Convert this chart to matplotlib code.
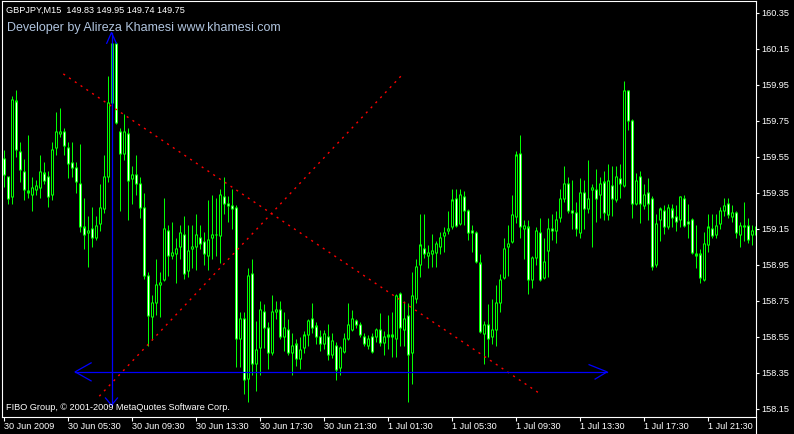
import matplotlib
matplotlib.use('Agg')
from matplotlib import pyplot as plt
from matplotlib.lines import Line2D

plt.rcParams['font.family'] = ['Liberation Sans', 'DejaVu Sans']

# GBPJPY M15 bars (bar 0 = 30 Jun 01:30)
opens = [159.54, 159.44, 159.33, 159.86, 159.58, 159.47, 159.36, 159.34, 159.37, 159.38,
         159.46, 159.44, 159.34, 159.60, 159.68, 159.69, 159.60, 159.52, 159.49, 159.40,
         159.16, 159.13, 159.15, 159.10, 159.18, 159.26, 159.44, 159.85, 160.18, 159.69,
         159.57, 159.68, 159.43, 159.45, 159.40, 159.27, 158.89, 158.66, 158.74, 158.84,
         158.87, 159.14, 159.00, 159.01, 159.05, 159.12, 158.92, 159.04, 159.05, 159.10,
         159.08, 159.00, 159.10, 159.12, 159.11, 159.33, 159.29, 159.28, 159.27, 158.54,
         158.65, 158.32, 158.90, 158.40, 158.49, 158.69, 158.60, 158.46, 158.69, 158.70,
         158.55, 158.59, 158.46, 158.51, 158.43, 158.49, 158.56, 158.65, 158.61, 158.55,
         158.51, 158.55, 158.45, 158.50, 158.38, 158.47, 158.54, 158.59, 158.64, 158.62,
         158.55, 158.50, 158.55, 158.55, 158.59, 158.52, 158.55, 158.55, 158.54, 158.79,
         158.59, 158.67, 158.46, 158.76, 158.95, 159.04, 159.00, 159.01, 159.02, 159.05,
         159.11, 159.14, 159.16, 159.32, 159.18, 159.33, 159.25, 159.14, 159.13, 158.96,
         158.57, 158.62, 158.55, 158.59, 158.74, 158.88, 159.05, 159.08, 159.22, 159.57,
         159.15, 159.16, 158.87, 158.99, 159.13, 158.88, 159.03, 159.15, 159.14, 159.21,
         159.32, 159.40, 159.25, 159.24, 159.13, 159.35, 159.26, 159.37, 159.37, 159.34,
         159.41, 159.23, 159.39, 159.31, 159.43, 159.39, 159.92, 159.75, 159.29, 159.44,
         159.28, 159.35, 159.32, 158.95, 159.20, 159.25, 159.16, 159.26, 159.22, 159.20,
         159.32, 159.19, 159.20, 159.01, 159.01, 158.87, 159.06, 159.15, 159.12, 159.18,
         159.25, 159.29, 159.22, 159.24, 159.12, 159.17, 159.17, 159.12, 159.12]
highs = [159.59, 159.44, 159.89, 159.92, 159.63, 159.54, 159.67, 159.44, 159.42, 159.56,
         159.52, 159.47, 159.63, 159.80, 159.82, 159.71, 159.63, 159.63, 159.52, 159.62,
         159.32, 159.22, 159.27, 159.22, 159.40, 159.56, 160.00, 160.19, 160.19, 159.71,
         159.79, 159.71, 159.50, 159.56, 159.44, 159.35, 158.91, 158.78, 158.98, 158.91,
         159.32, 159.17, 159.19, 159.10, 159.17, 159.22, 159.17, 159.17, 159.23, 159.17,
         159.13, 159.31, 159.34, 159.32, 159.37, 159.44, 159.33, 159.37, 159.28, 158.69,
         158.69, 158.93, 158.98, 158.64, 158.75, 158.73, 158.63, 158.78, 158.75, 158.75,
         158.69, 158.65, 158.57, 158.54, 158.55, 158.58, 158.65, 158.74, 158.63, 158.59,
         158.59, 158.62, 158.57, 158.52, 158.50, 158.57, 158.74, 158.70, 158.65, 158.63,
         158.57, 158.56, 158.57, 158.60, 158.68, 158.58, 158.67, 158.69, 158.79, 158.80,
         158.75, 158.74, 158.91, 158.98, 159.23, 159.23, 159.06, 159.12, 159.08, 159.13,
         159.16, 159.25, 159.37, 159.37, 159.37, 159.36, 159.26, 159.17, 159.14, 159.01,
         158.64, 158.73, 158.76, 158.84, 158.90, 159.10, 159.17, 159.34, 159.58, 159.67,
         159.20, 159.20, 159.00, 159.16, 159.21, 159.10, 159.21, 159.23, 159.25, 159.37,
         159.50, 159.44, 159.42, 159.30, 159.43, 159.42, 159.53, 159.40, 159.48, 159.44,
         159.47, 159.51, 159.50, 159.50, 159.51, 159.97, 159.92, 159.76, 159.46, 159.47,
         159.40, 159.43, 159.33, 159.23, 159.27, 159.28, 159.29, 159.29, 159.28, 159.33,
         159.34, 159.29, 159.21, 159.17, 159.04, 159.13, 159.23, 159.23, 159.23, 159.27,
         159.32, 159.32, 159.28, 159.25, 159.19, 159.30, 159.21, 159.17, 159.19]
lows = [159.38, 159.29, 159.29, 159.55, 159.41, 159.31, 159.32, 159.25, 159.34, 159.32,
        159.40, 159.27, 159.31, 159.56, 159.66, 159.56, 159.43, 159.44, 159.35, 159.13,
        159.04, 158.94, 159.05, 159.09, 159.14, 159.24, 159.41, 159.84, 159.73, 159.25,
        159.53, 159.20, 159.29, 159.34, 159.21, 158.87, 158.50, 158.53, 158.67, 158.66,
        158.86, 158.89, 158.98, 158.85, 158.98, 158.87, 158.88, 158.93, 158.92, 159.04,
        158.95, 158.92, 158.98, 159.00, 158.96, 159.23, 159.19, 159.15, 158.38, 158.38,
        158.23, 158.19, 158.34, 158.25, 158.34, 158.49, 158.37, 158.45, 158.65, 158.54,
        158.47, 158.45, 158.34, 158.39, 158.37, 158.46, 158.50, 158.57, 158.51, 158.47,
        158.48, 158.42, 158.43, 158.31, 158.34, 158.46, 158.53, 158.58, 158.60, 158.55,
        158.50, 158.48, 158.46, 158.52, 158.50, 158.45, 158.48, 158.44, 158.44, 158.50,
        158.50, 158.19, 158.29, 158.74, 158.88, 158.99, 158.93, 158.94, 158.94, 159.01,
        159.02, 159.12, 159.15, 159.16, 159.17, 159.17, 159.09, 159.02, 158.96, 158.57,
        158.40, 158.44, 158.51, 158.50, 158.69, 158.87, 158.89, 159.07, 159.18, 159.10,
        158.98, 158.79, 158.82, 158.95, 158.86, 158.87, 158.88, 159.09, 159.07, 159.19,
        159.30, 159.24, 159.15, 159.11, 159.10, 159.15, 159.24, 159.05, 159.19, 159.21,
        159.20, 159.20, 159.22, 159.30, 159.32, 159.38, 159.70, 159.21, 159.28, 159.18,
        159.26, 159.20, 158.92, 158.94, 159.08, 159.12, 159.15, 159.16, 159.14, 159.16,
        159.16, 159.10, 159.01, 158.93, 158.85, 158.86, 159.02, 159.10, 159.10, 159.15,
        159.22, 159.21, 159.19, 159.10, 159.05, 159.08, 159.07, 159.06, 159.07]
closes = [159.45, 159.32, 159.87, 159.59, 159.48, 159.37, 159.35, 159.38, 159.39, 159.47,
          159.42, 159.33, 159.59, 159.69, 159.69, 159.61, 159.51, 159.49, 159.41, 159.16,
          159.12, 159.14, 159.10, 159.17, 159.27, 159.44, 159.85, 160.18, 159.74, 159.57,
          159.69, 159.42, 159.45, 159.40, 159.27, 158.89, 158.67, 158.74, 158.84, 158.85,
          159.15, 159.00, 159.02, 159.04, 159.13, 158.90, 159.03, 159.05, 159.12, 159.07,
          159.01, 159.09, 159.12, 159.12, 159.34, 159.29, 159.28, 159.26, 158.54, 158.65,
          158.31, 158.89, 158.40, 158.48, 158.70, 158.60, 158.46, 158.69, 158.70, 158.55,
          158.60, 158.46, 158.50, 158.43, 158.48, 158.56, 158.64, 158.60, 158.55, 158.51,
          158.57, 158.45, 158.53, 158.37, 158.49, 158.54, 158.62, 158.65, 158.62, 158.56,
          158.51, 158.54, 158.47, 158.59, 158.52, 158.55, 158.56, 158.56, 158.78, 158.60,
          158.65, 158.45, 158.78, 158.94, 159.06, 159.01, 159.02, 159.03, 159.07, 159.10,
          159.13, 159.15, 159.31, 159.17, 159.34, 159.25, 159.13, 159.13, 158.97, 158.58,
          158.62, 158.54, 158.59, 158.74, 158.87, 159.04, 159.07, 159.23, 159.56, 159.16,
          159.17, 158.87, 158.99, 159.14, 158.87, 158.97, 159.15, 159.14, 159.20, 159.32,
          159.40, 159.25, 159.24, 159.15, 159.35, 159.26, 159.32, 159.38, 159.32, 159.40,
          159.24, 159.42, 159.32, 159.44, 159.40, 159.92, 159.75, 159.29, 159.42, 159.29,
          159.34, 159.29, 158.94, 159.18, 159.26, 159.16, 159.27, 159.21, 159.19, 159.33,
          159.17, 159.18, 159.02, 159.00, 158.88, 159.07, 159.16, 159.11, 159.17, 159.25,
          159.28, 159.23, 159.24, 159.13, 159.17, 159.16, 159.09, 159.14, 159.16]

time_ticks = [0, 16, 32, 48, 64, 80, 96, 112, 128, 144, 160, 176]
time_labels = ['30 Jun 2009', '30 Jun 05:30', '30 Jun 09:30', '30 Jun 13:30',
               '30 Jun 17:30', '30 Jun 21:30', '1 Jul 01:30', '1 Jul 05:30',
               '1 Jul 09:30', '1 Jul 13:30', '1 Jul 17:30', '1 Jul 21:30']
price_ticks = [158.15, 158.35, 158.55, 158.75, 158.95, 159.15,
               159.35, 159.55, 159.75, 159.95, 160.15, 160.35]

# objects drawn on the chart (bar index, price)
fan_down_bars = [14.95, 133.7]
fan_down_prices = [160.01, 158.24]
fan_up_bars = [23.95, 99.45]
fan_up_prices = [158.22, 160.00]
hline_bars = [17.9, 150.9]
hline_price = 158.355
vline_bar = 27
vline_prices = [158.17, 160.24]

header = 'GBPJPY,M15  149.83 149.95 149.74 149.75'
developer = 'Developer by Alireza Khamesi www.khamesi.com'
footer = 'FIBO Group, \u00a9 2001-2009 MetaQuotes Software Corp.'

GREEN = '#00ff00'
BLUE = '#0000ff'
W, H = 794, 434
top_px, bottom_px, left_px, right_px = 1, 416.7, 2, 756
PX = 0.72  # one pixel in points

fig = plt.figure(figsize=(W / 100, H / 100), dpi=100, facecolor='black')
ax = fig.add_axes([left_px / W, (H - bottom_px) / H,
                   (right_px - left_px) / W, (bottom_px - top_px) / H])
ax.set_facecolor('black')
ax.set_xlim(-0.375, 188.125)
ax.set_ylim(158.106, 160.415)

# price per pixel on this scale
ppx = (160.415 - 158.106) / (bottom_px - top_px)

# candles: 1px wick, 3px lime body, 1px core (white = down bar, black = up bar)
idx = list(range(len(opens)))
ax.vlines(idx, lows, highs, color=GREEN, lw=PX, zorder=2)
body_lo = [min(o, c) - ppx / 2 for o, c in zip(opens, closes)]
body_hi = [max(o, c) + ppx / 2 for o, c in zip(opens, closes)]
ax.vlines(idx, body_lo, body_hi, color=GREEN, lw=3 * PX, zorder=3)
core_i, core_lo, core_hi, core_c = [], [], [], []
for i, o, c in zip(idx, opens, closes):
    lo, hi = min(o, c) + ppx * 0.6, max(o, c) - ppx * 0.6
    if hi > lo:
        core_i.append(i)
        core_lo.append(lo)
        core_hi.append(hi)
        core_c.append('white' if c < o else 'black')
ax.vlines(core_i, core_lo, core_hi, colors=core_c, lw=PX, zorder=3.5)

# red dotted fan lines
ax.plot(fan_down_bars, fan_down_prices, color='red', lw=1, ls=(0, (1.5, 3.5)), zorder=4)
ax.plot(fan_up_bars, fan_up_prices, color='red', lw=1, ls=(0, (1.5, 3.5)), zorder=4)

# blue measuring lines with open arrow heads
ax.plot(hline_bars, [hline_price] * 2, color=BLUE, lw=0.9, zorder=4)
ax.plot([hline_bars[0] + 4, hline_bars[0], hline_bars[0] + 4],
        [hline_price + 0.05, hline_price, hline_price - 0.05], color=BLUE, lw=0.9, zorder=4)
ax.plot([hline_bars[1] - 4.5, hline_bars[1], hline_bars[1] - 3],
        [hline_price + 0.04, hline_price, hline_price - 0.04], color=BLUE, lw=0.9, zorder=4)
ax.plot([vline_bar] * 2, vline_prices, color=BLUE, lw=0.9, zorder=4)
ax.plot([vline_bar - 1.2, vline_bar, vline_bar + 1.2],
        [vline_prices[1] - 0.06, vline_prices[1], vline_prices[1] - 0.06], color=BLUE, lw=0.9, zorder=4)
ax.plot([vline_bar - 1.5, vline_bar, vline_bar + 1.5],
        [vline_prices[0] + 0.04, vline_prices[0], vline_prices[0] + 0.04], color=BLUE, lw=0.9, zorder=4)

for s in ax.spines.values():
    s.set_color('white')
    s.set_linewidth(0.8)

ax.set_xticks(time_ticks)
ax.set_xticklabels(time_labels, ha='left')
ax.tick_params(axis='x', colors='white', length=3, width=0.8, pad=1, labelsize=6.6)
ax.yaxis.tick_right()
ax.set_yticks(price_ticks)
ax.set_yticklabels(['%.2f' % p for p in price_ticks])
ax.tick_params(axis='y', colors='white', length=2.5, width=0.8, pad=1.5, labelsize=6.6)

# right axis line runs to the bottom of the window
fig.add_artist(Line2D([right_px / W] * 2, [0, (H - bottom_px) / H], color='white', lw=0.8))

fig.text(6 / W, 1 - 10.5 / H, header, color='white', fontsize=6.6, va='center')
fig.text(7 / W, 1 - 28.5 / H, developer, color='#b0c4de', fontsize=9, va='center')
fig.text(6 / W, 1 - 408 / H, footer, color='white', fontsize=6.6, va='center')

fig.savefig('out.png', dpi=100, facecolor='black')
